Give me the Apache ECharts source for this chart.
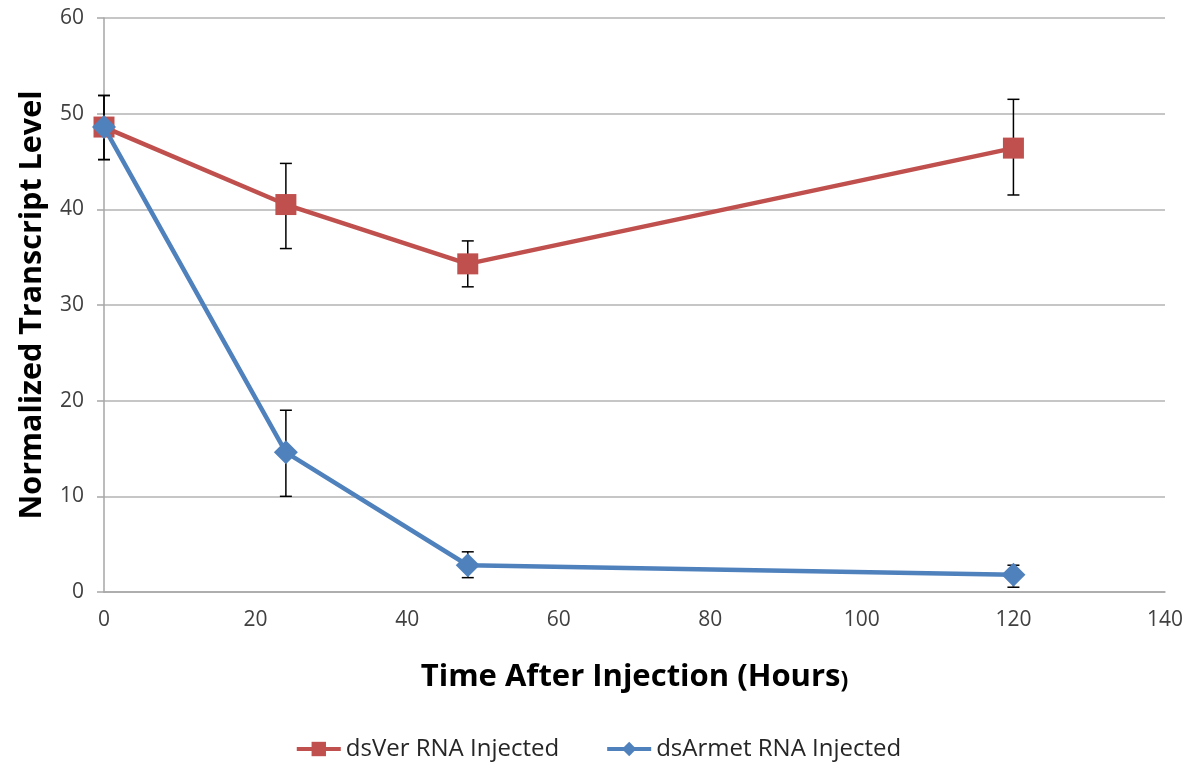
<!DOCTYPE html>
<html>
<head>
<meta charset="utf-8">
<script src="https://cdn.jsdelivr.net/npm/echarts@6/dist/echarts.min.js"></script>
<style>
  html, body { margin: 0; padding: 0; background: #fff; }
  #chart { width: 1196px; height: 769px; }
</style>
</head>
<body>
<div id="chart"></div>
<script>
// Time points (hours after injection)
const hours = [0, 24, 48, 120];

// dsVer RNA injected: mean and error bar bounds
const verMean = [48.6, 40.5, 34.3, 46.4];
const verHigh = [51.9, 44.8, 36.7, 51.5];
const verLow  = [45.2, 35.9, 31.9, 41.5];

// dsArmet RNA injected: mean and error bar bounds
const armetMean = [48.6, 14.6, 2.8, 1.8];
const armetHigh = [51.9, 19.0, 4.2, 2.8];
const armetLow  = [45.2, 10.0, 1.5, 0.5];

const RED = '#c0504d';
const BLUE = '#4f81bd';
const FONT = '"Open Sans", "Noto Sans", sans-serif';

function pairs(xs, ys) { return xs.map((x, i) => [x, ys[i]]); }
function errRows(xs, lo, hi) { return xs.map((x, i) => [x, lo[i], hi[i]]); }

// Vertical error bar with caps
function renderErr(params, api) {
  const x = api.value(0);
  const lo = api.coord([x, api.value(1)]);
  const hi = api.coord([x, api.value(2)]);
  const cap = 6;
  const style = { stroke: '#000', lineWidth: 1.5, fill: null };
  return {
    type: 'group',
    children: [
      { type: 'line', shape: { x1: lo[0], y1: lo[1], x2: hi[0], y2: hi[1] }, style },
      { type: 'line', shape: { x1: hi[0] - cap, y1: hi[1], x2: hi[0] + cap, y2: hi[1] }, style },
      { type: 'line', shape: { x1: lo[0] - cap, y1: lo[1], x2: lo[0] + cap, y2: lo[1] }, style }
    ]
  };
}

const chart = echarts.init(document.getElementById('chart'), null, { renderer: 'canvas' });

chart.setOption({
  animation: false,
  textStyle: { fontFamily: FONT },
  grid: { left: 104, right: 31, top: 18, bottom: 177, containLabel: false },
  legend: {
    bottom: 3,
    left: 'center',
    itemWidth: 44,
    itemHeight: 18,
    itemGap: 46,
    lineStyle: { width: 4 },
    textStyle: { fontFamily: FONT, fontSize: 24, color: '#262626' },
    data: ['dsVer RNA Injected', 'dsArmet RNA Injected']
  },
  xAxis: {
    type: 'value',
    min: 0, max: 140, interval: 20,
    name: '{a|Time After Injection (Hours}{b|)}',
    nameLocation: 'middle',
    nameGap: 70,
    nameTextStyle: {
      rich: {
        a: { fontFamily: FONT, fontSize: 31, fontWeight: 'bold', color: '#000' },
        b: { fontFamily: FONT, fontSize: 23, fontWeight: 'bold', color: '#000', padding: [7, 0, 0, 0] }
      }
    },
    axisLine: { show: true, lineStyle: { color: '#a6a6a6', width: 1.5 } },
    axisTick: { show: false },
    splitLine: { show: false },
    axisLabel: { fontSize: 21, color: '#404040', margin: 18, fontFamily: FONT }
  },
  yAxis: {
    type: 'value',
    min: 0, max: 60, interval: 10,
    name: 'Normalized Transcript Level',
    nameLocation: 'middle',
    nameGap: 56,
    nameTextStyle: { fontFamily: FONT, fontSize: 30.5, fontWeight: 'bold', color: '#000' },
    axisLine: { show: true, lineStyle: { color: '#a6a6a6', width: 1.5 } },
    axisTick: { show: true, length: 7, lineStyle: { color: '#a6a6a6', width: 1.5 } },
    splitLine: { show: true, lineStyle: { color: '#b3b3b3', width: 1.5 } },
    axisLabel: { fontSize: 21, color: '#404040', margin: 20, fontFamily: FONT }
  },
  series: [
    {
      name: 'verErr', type: 'custom', z: 1,
      renderItem: renderErr,
      data: errRows(hours, verLow, verHigh),
      encode: { x: 0, y: [1, 2] },
      silent: true
    },
    {
      name: 'armetErr', type: 'custom', z: 1,
      renderItem: renderErr,
      data: errRows(hours, armetLow, armetHigh),
      encode: { x: 0, y: [1, 2] },
      silent: true
    },
    {
      name: 'dsVer RNA Injected', type: 'line', z: 3,
      data: pairs(hours, verMean),
      symbol: 'rect', symbolSize: 21,
      lineStyle: { color: RED, width: 4.5 },
      itemStyle: { color: RED },
      color: RED
    },
    {
      name: 'dsArmet RNA Injected', type: 'line', z: 4,
      data: pairs(hours, armetMean),
      symbol: 'diamond', symbolSize: 24,
      lineStyle: { color: BLUE, width: 4.5 },
      itemStyle: { color: BLUE },
      color: BLUE
    }
  ]
});
</script>
</body>
</html>
